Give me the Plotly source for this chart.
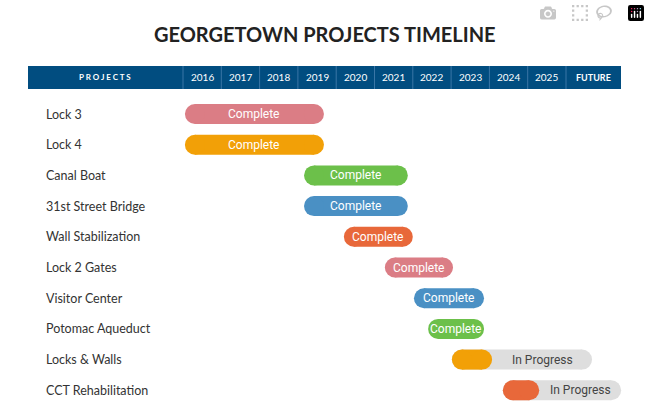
import plotly.graph_objects as go

projects = ["Lock 3", "Lock 4", "Canal Boat", "31st Street Bridge", "Wall Stabilization",
            "Lock 2 Gates", "Visitor Center", "Potomac Aqueduct", "Locks & Walls", "CCT Rehabilitation"]
starts = [2016.05, 2016.05, 2019.16, 2019.16, 2020.2, 2021.27, 2022.03, 2022.4, 2023.02, 2024.35]
ends = [2019.68, 2019.68, 2021.87, 2021.87, 2022.0, 2023.05, 2023.86, 2023.86, 2024.07, 2025.3]
plan_ends = [None, None, None, None, None, None, None, None, 2026.68, 2027.44]
status = ["Complete"] * 8 + ["In Progress", "In Progress"]
colors = ["#db7d85", "#f2a007", "#6cc04a", "#4a90c4", "#e8683a", "#db7d85",
          "#4a90c4", "#6cc04a", "#f2a007", "#e8683a"]
years = ["2016", "2017", "2018", "2019", "2020", "2021", "2022", "2023", "2024", "2025"]

W, H = 650, 416
X0PX, PPY = 183, 38.3
xr = [2016 - X0PX / PPY, 2016 + (W - X0PX) / PPY]
ROW0, ROWH = 114, 30.7
yr = [(H - ROW0) / ROWH, -ROW0 / ROWH]
R = 10 / PPY  # cap radius in years

fig = go.Figure()

def pill(a, b, y, color):
    fig.add_trace(go.Scatter(x=[a + R, b - R], y=[y, y], mode="lines+markers",
                             line=dict(color=color, width=20),
                             marker=dict(color=color, size=20, line=dict(width=0)),
                             hoverinfo="skip", showlegend=False))

def ann(**kw):
    kw.setdefault("xanchor", "center")
    kw.setdefault("yanchor", "middle")
    fig.add_annotation(showarrow=False, **kw)

for i, p in enumerate(projects):
    if plan_ends[i] is not None:
        pill(starts[i], plan_ends[i], i, "#dedede")
        pill(starts[i], ends[i], i, colors[i])
        ann(x=(ends[i] + plan_ends[i]) / 2, y=i, text=status[i],
            font=dict(family="Roboto", size=12, color="#444"))
    else:
        pill(starts[i], ends[i], i, colors[i])
        ann(x=(starts[i] + ends[i]) / 2, y=i, text=status[i],
            font=dict(family="Roboto", size=12, color="white"))
    ann(xref="paper", x=44 / W, xanchor="left", y=i, text=p,
        font=dict(family="Lato", size=12.5, color="#333"))

def px(v):
    return v / W
def py(v):
    return 1 - v / H

fig.add_shape(type="rect", xref="paper", yref="paper", x0=px(28), x1=px(621), y0=py(89), y1=py(66),
              fillcolor="#014d80", line=dict(width=0), layer="below")
bounds = [X0PX + PPY * k for k in range(11)]
for bx in bounds:
    fig.add_shape(type="line", xref="paper", yref="paper", x0=px(bx), x1=px(bx), y0=py(89), y1=py(66),
                  line=dict(color="#3a76a6", width=1))
ann(xref="paper", yref="paper", x=px(105), y=py(77.5), text="<b>P R O J E C T S</b>",
    font=dict(family="Lato", size=8, color="white"))
for k, yl in enumerate(years):
    ann(xref="paper", yref="paper", x=px(X0PX + PPY * (k + 0.5)), y=py(77.5), text=yl,
        font=dict(family="Lato", size=10, color="white"))
ann(xref="paper", yref="paper", x=px(593), y=py(77.5), text="<b>FUTURE</b>",
    font=dict(family="Lato", size=9, color="white"))
ann(xref="paper", yref="paper", x=0.5, y=py(34), text="<b>GEORGETOWN PROJECTS TIMELINE</b>",
    font=dict(family="Lato", size=20, color="#222"))

fig.update_layout(width=W, height=H, margin=dict(l=0, r=0, t=0, b=0),
                  paper_bgcolor="white", plot_bgcolor="white",
                  xaxis=dict(range=xr, visible=False, fixedrange=True),
                  yaxis=dict(range=yr, visible=False, fixedrange=True))
fig.write_html("out.html", post_script="document.body.style.margin='0';document.body.style.overflow='hidden';")
